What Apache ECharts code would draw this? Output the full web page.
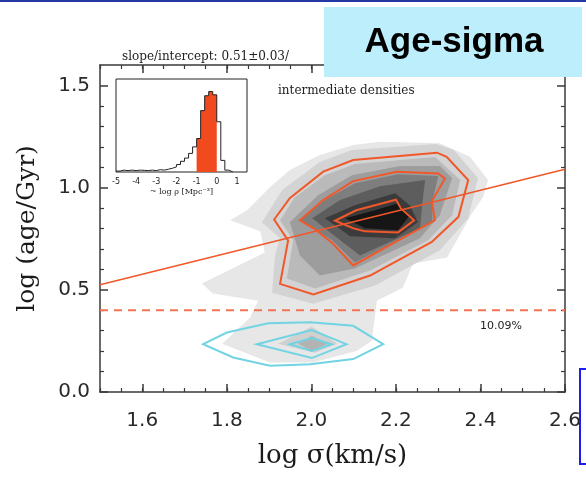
<!DOCTYPE html>
<html>
<head>
<meta charset="utf-8">
<script src="https://cdn.jsdelivr.net/npm/echarts@6/dist/echarts.min.js"></script>
<style>html,body{margin:0;padding:0;background:#fff;}#c{width:586px;height:499px;}</style>
</head>
<body>
<div id="c"></div>
<script>
// ---------- data ----------
const sigmaTicks = [1.6, 1.8, 2.0, 2.2, 2.4, 2.6];
const ageTicks = [0.0, 0.5, 1.0, 1.5];
const insetTicks = [-5, -4, -3, -2, -1, 0, 1];

// filled density contours (log sigma, log age), outermost first
const grayL1 = [[1.808,0.840],[1.848,0.889],[1.902,1.002],[1.949,1.086],[2.020,1.160],[2.099,1.209],[2.162,1.225],[2.304,1.217],[2.375,1.151],[2.418,1.037],[2.406,0.953],[2.380,0.875],[2.321,0.658],[2.240,0.629],[2.217,0.511],[2.155,0.447],[2.146,0.300],[2.143,0.251],[2.107,0.201],[2.004,0.144],[1.902,0.144],[1.789,0.236],[1.855,0.364],[1.874,0.447],[1.767,0.482],[1.741,0.531],[1.890,0.683],[1.879,0.786]];
const grayL2 = [[1.883,0.830],[1.931,0.988],[2.020,1.125],[2.096,1.184],[2.295,1.214],[2.337,1.184],[2.394,1.047],[2.371,0.850],[2.304,0.693],[2.151,0.521],[2.004,0.432],[1.907,0.486],[1.914,0.668],[1.926,0.752]];
const grayL3 = [[1.926,0.840],[1.961,0.953],[2.032,1.061],[2.103,1.115],[2.293,1.150],[2.352,1.037],[2.333,0.865],[2.276,0.742],[2.139,0.595],[2.009,0.506],[1.942,0.555],[1.957,0.742]];
const grayL4 = [[1.949,0.830],[2.016,0.963],[2.096,1.061],[2.210,1.106],[2.304,1.106],[2.333,1.047],[2.304,0.865],[2.257,0.752],[2.103,0.604],[2.020,0.570],[1.973,0.668]];
const grayL5 = [[1.973,0.840],[2.032,0.939],[2.103,1.022],[2.205,1.066],[2.300,1.057],[2.286,0.929],[2.286,0.830],[2.103,0.634],[2.049,0.742]];
const grayL6 = [[2.002,0.850],[2.068,0.939],[2.162,1.007],[2.269,1.037],[2.262,0.914],[2.257,0.801],[2.115,0.668],[2.056,0.762]];
const grayL7 = [[2.032,0.850],[2.103,0.914],[2.198,0.973],[2.233,0.914],[2.252,0.830],[2.198,0.752],[2.092,0.762]];
const grayL8 = [[2.080,0.850],[2.151,0.889],[2.205,0.924],[2.233,0.865],[2.205,0.791],[2.127,0.801]];
const grayLowA = [[1.921,0.236],[2.001,0.319],[2.061,0.236],[2.009,0.192]];
const grayLowB = [[1.968,0.236],[2.001,0.275],[2.039,0.236],[2.001,0.201]];

// orange contours (intermediate-density sample)
const orangeOuter = [[1.912,0.844],[1.949,0.948],[2.028,1.078],[2.099,1.135],[2.297,1.171],[2.320,1.151],[2.371,1.037],[2.348,0.857],[2.285,0.734],[2.139,0.570],[2.005,0.477],[1.926,0.529],[1.945,0.742]];
const orangeMiddle = [[1.973,0.840],[2.028,0.939],[2.099,1.032],[2.202,1.078],[2.300,1.069],[2.316,1.044],[2.285,0.934],[2.292,0.840],[2.099,0.619],[2.048,0.732],[2.005,0.801]];
const orangeInner = [[2.056,0.838],[2.106,0.889],[2.200,0.941],[2.212,0.898],[2.243,0.840],[2.205,0.781],[2.127,0.786],[2.099,0.801]];

// cyan contours (young population)
const cyanOuter = [[1.744,0.234],[1.800,0.291],[1.898,0.336],[1.997,0.341],[2.099,0.324],[2.170,0.234],[2.099,0.161],[1.997,0.136],[1.902,0.128],[1.815,0.169]];
const cyanMiddle = [[1.871,0.234],[2.001,0.303],[2.083,0.234],[2.001,0.166]];
const cyanInner = [[1.949,0.234],[2.001,0.264],[2.048,0.234],[2.001,0.201]];

// fit and age cut
const fitLine = [[1.5, 0.525], [2.6, 1.09]];
const ageCut = [[1.5, 0.40], [2.6, 0.40]];

// inset histogram of ~log rho
const histLeft  = [-5.0,-4.8,-4.6,-4.4,-4.2,-4.0,-3.8,-3.6,-3.4,-3.2,-3.0,-2.8,-2.6,-2.4,-2.2,-2.0,-1.8,-1.6,-1.4,-1.2,-1.0,-0.8,-0.6,-0.4,-0.2,0.0,0.2,0.4,0.6];
const histCount = [0.01,0.02,0.015,0.02,0.015,0.02,0.018,0.015,0.02,0.015,0.025,0.02,0.03,0.04,0.055,0.08,0.115,0.15,0.2,0.27,0.36,0.66,0.82,0.865,0.83,0.54,0.125,0.02,0.0];
const histWidth = 0.2;
const selLow = -1.0, selHigh = 0.0;

// ---------- styles ----------
const grayPolys = [grayL1, grayL2, grayL3, grayL4, grayL5, grayL6, grayL7, grayL8, grayLowA, grayLowB];
const grayColors = ['#e7e7e7','#d3d3d3','#bababa','#9d9d9d','#7e7e7e','#5d5d5d','#3b3b3b','#161616','#d0d0d0','#b3b3b3'];
const ORANGE = '#f0582a';
const CYAN = '#72d3e3';
const AXIS = '#3a3a3a';

function polySeries(polys, styleFn) {
  return {
    type: 'custom',
    xAxisIndex: 0, yAxisIndex: 0,
    silent: true,
    data: polys.map(p => p[0]),
    renderItem: function (params, api) {
      const pts = polys[params.dataIndex].map(p => api.coord(p));
      return { type: 'polygon', shape: { points: pts }, style: styleFn(params.dataIndex) };
    }
  };
}

const histStep = [];
histLeft.forEach((l, i) => histStep.push([l, histCount[i]]));
histStep.push([histLeft[histLeft.length - 1] + histWidth, 0]);

// selected (orange) part of the histogram as a step outline
const selBins = histLeft.map((l, i) => [l, histCount[i]]).filter(d => d[0] >= selLow - 1e-9 && d[0] < selHigh - 1e-9);

const chart = echarts.init(document.getElementById('c'), null, { renderer: 'canvas' });
const tickFont = { fontFamily: 'DejaVu Sans', fontSize: 20, color: '#2a2a2a' };

chart.setOption({
  animation: false,
  backgroundColor: '#ffffff',
  grid: [
    { left: 100, top: 65, width: 465, height: 327 },
    { left: 116, top: 79, width: 131, height: 93, backgroundColor: '#fff', show: true, borderWidth: 1, borderColor: '#222' }
  ],
  xAxis: [
    { gridIndex: 0, type: 'value', min: 1.5, max: 2.6, position: 'bottom',
      name: 'log σ(km/s)', nameLocation: 'middle', nameGap: 51,
      nameTextStyle: { fontFamily: 'DejaVu Serif', fontSize: 26, color: '#1a1a1a' },
      axisLine: { show: true, lineStyle: { color: AXIS, width: 1.5 } },
      axisTick: { show: true, inside: true, length: 8, customValues: sigmaTicks, lineStyle: { color: AXIS, width: 1.5 } },
      axisLabel: { show: true, customValues: sigmaTicks, margin: 19, formatter: v => v.toFixed(1), ...tickFont },
      splitLine: { show: false } },
    { gridIndex: 0, type: 'value', min: 1.5, max: 2.6, interval: 0.05, position: 'bottom',
      axisLine: { show: false }, axisLabel: { show: false }, splitLine: { show: false },
      axisTick: { show: true, inside: true, length: 4, lineStyle: { color: AXIS, width: 1.2 } } },
    { gridIndex: 0, type: 'value', min: 1.5, max: 2.6, position: 'top',
      axisLine: { show: true, onZero: false, lineStyle: { color: AXIS, width: 1.5 } },
      axisTick: { show: true, inside: true, length: 8, customValues: sigmaTicks, lineStyle: { color: AXIS, width: 1.5 } },
      axisLabel: { show: false }, splitLine: { show: false } },
    { gridIndex: 0, type: 'value', min: 1.5, max: 2.6, interval: 0.05, position: 'top',
      axisLine: { show: false }, axisLabel: { show: false }, splitLine: { show: false },
      axisTick: { show: true, inside: true, length: 4, lineStyle: { color: AXIS, width: 1.2 } } },
    { gridIndex: 1, type: 'value', min: -5, max: 1.5, position: 'bottom',
      name: '~ log ρ [Mpc⁻³]', nameLocation: 'middle', nameGap: 16,
      nameTextStyle: { fontFamily: 'DejaVu Serif', fontSize: 8, color: '#222' },
      axisLine: { show: false },
      axisTick: { show: false },
      axisLabel: { show: true, customValues: insetTicks, margin: 6, fontFamily: 'DejaVu Sans', fontSize: 8, color: '#222' },
      splitLine: { show: false } }
  ],
  yAxis: [
    { gridIndex: 0, type: 'value', min: 0, max: 1.6, interval: 0.5, position: 'left',
      name: 'log (age/Gyr)', nameLocation: 'middle', nameGap: 60,
      nameTextStyle: { fontFamily: 'DejaVu Serif', fontSize: 25, color: '#1a1a1a' },
      axisLine: { show: true, onZero: false, lineStyle: { color: AXIS, width: 1.5 } },
      axisTick: { show: true, inside: true, length: 8, customValues: ageTicks, lineStyle: { color: AXIS, width: 1.5 } },
      minorTick: { show: true, splitNumber: 5, length: 4, lineStyle: { color: AXIS, width: 1.2 } },
      axisLabel: { show: true, customValues: ageTicks, margin: 10, formatter: v => v.toFixed(1), ...tickFont },
      splitLine: { show: false } },
    { gridIndex: 0, type: 'value', min: 0, max: 1.6, interval: 0.5, position: 'right',
      axisLine: { show: true, onZero: false, lineStyle: { color: AXIS, width: 1.5 } },
      axisTick: { show: true, inside: true, length: 8, customValues: ageTicks, lineStyle: { color: AXIS, width: 1.5 } },
      minorTick: { show: true, splitNumber: 5, length: 4, lineStyle: { color: AXIS, width: 1.2 } },
      axisLabel: { show: false }, splitLine: { show: false } },
    { gridIndex: 1, type: 'value', min: 0, max: 1,
      axisLine: { show: false, onZero: false },
      axisTick: { show: false }, axisLabel: { show: false }, splitLine: { show: false } }
  ],
  series: [
    polySeries(grayPolys, i => ({ fill: grayColors[i], stroke: null })),
    polySeries([orangeOuter, orangeMiddle, orangeInner], () => ({ fill: 'none', stroke: ORANGE, lineWidth: 2 })),
    polySeries([cyanOuter, cyanMiddle, cyanInner], () => ({ fill: 'none', stroke: CYAN, lineWidth: 2 })),
    { type: 'line', xAxisIndex: 0, yAxisIndex: 0, data: fitLine, symbol: 'none', silent: true,
      lineStyle: { color: ORANGE, width: 1.6 } },
    { type: 'line', xAxisIndex: 0, yAxisIndex: 0, data: ageCut, symbol: 'none', silent: true,
      lineStyle: { color: '#f27454', width: 2, type: [8, 6] } },
    { type: 'custom', xAxisIndex: 4, yAxisIndex: 2, silent: true,
      data: [selBins[0]],
      renderItem: function (params, api) {
        const pts = [api.coord([selBins[0][0], 0])];
        selBins.forEach(b => { pts.push(api.coord([b[0], b[1]])); pts.push(api.coord([b[0] + histWidth, b[1]])); });
        pts.push(api.coord([selBins[selBins.length - 1][0] + histWidth, 0]));
        return { type: 'polygon', shape: { points: pts }, style: { fill: '#f04a1e' } };
      } },
    { type: 'line', xAxisIndex: 4, yAxisIndex: 2, data: histStep, step: 'end', symbol: 'none', silent: true,
      lineStyle: { color: '#222', width: 1 } }
  ],
  graphic: [
    { type: 'rect', z: 100, shape: { x: 0, y: 0, width: 586, height: 2 }, style: { fill: '#2438a4' } },
    { type: 'text', z: 90, left: 122, top: 51, style: { text: 'slope/intercept: 0.51±0.03/', font: '12px "DejaVu Serif"', fill: '#222' } },
    { type: 'rect', z: 100, shape: { x: 324, y: 7, width: 258, height: 70 }, style: { fill: '#bdeefc' } },
    { type: 'text', z: 101, x: 454, y: 42, style: { text: 'Age-sigma', font: 'bold 35px "Liberation Sans"', fill: '#000', align: 'center', verticalAlign: 'middle' } },
    { type: 'text', z: 90, left: 278, top: 85, style: { text: 'intermediate densities', font: '12px "DejaVu Serif"', fill: '#222' } },
    { type: 'text', z: 90, left: 480, top: 321, style: { text: '10.09%', font: '11px "DejaVu Sans"', fill: '#222' } },
    { type: 'rect', z: 100, shape: { x: 580, y: 369, width: 20, height: 95 }, style: { fill: '#fff', stroke: '#1d1df0', lineWidth: 2 } }
  ]
});
</script>
</body>
</html>
